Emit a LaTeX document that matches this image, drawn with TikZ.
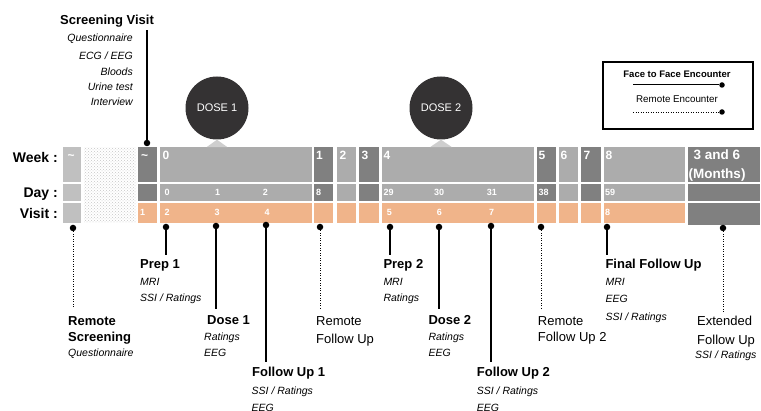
\documentclass[tikz,border=0pt]{standalone}
\usepackage{fontspec}
\setmainfont{Liberation Sans}
\usetikzlibrary{patterns,positioning}
\definecolor{lightcell}{RGB}{192,192,192}
\definecolor{midcell}{RGB}{172,172,172}
\definecolor{darkcell}{RGB}{128,128,128}
\definecolor{visitorange}{RGB}{240,180,138}
\definecolor{dosegray}{RGB}{52,50,51}
\definecolor{notchgray}{RGB}{206,206,206}
\tikzset{
  weekcell/.style = {
    rectangle,
    anchor=north west,
    inner sep=0pt,
    minimum height=34.5pt
  },
  daycell/.style = {
    rectangle,
    anchor=north west,
    inner sep=0pt,
    minimum height=17.5pt
  },
  visitcell/.style = {
    rectangle,
    anchor=north west,
    inner sep=0pt,
    fill=visitorange,
    minimum height=19.5pt
  },
  stipple/.style = {
    rectangle,
    anchor=north west,
    inner sep=0pt,
    fill=gray!8,
    pattern=crosshatch dots,
    pattern color=gray!45
  },
  rowlabel/.style = {
    anchor=base east,
    inner sep=0pt,
    font=\bfseries\fontsize{14}{16}\selectfont
  },
  weeknum/.style = {
    anchor=base west,
    inner sep=0pt,
    text=white,
    font=\bfseries\fontsize{12}{14}\selectfont
  },
  daynum/.style = {
    anchor=base west,
    inner sep=0pt,
    text=white,
    font=\bfseries\fontsize{9}{10}\selectfont
  },
  dosebubble/.style = {
    circle,
    fill=dosegray,
    text=white,
    inner sep=0pt,
    minimum size=63pt,
    font=\fontsize{11}{13}\selectfont
  },
  evtitle/.style = {
    anchor=base west,
    inner sep=0pt,
    font=\bfseries\fontsize{13}{15}\selectfont
  },
  evitem/.style = {
    anchor=base west,
    inner sep=0pt,
    font=\itshape\fontsize{10.5}{12}\selectfont
  },
  evremote/.style = {
    anchor=base west,
    inner sep=0pt,
    font=\fontsize{13}{15}\selectfont
  },
  dotmark/.style = {
    circle,
    fill=black,
    inner sep=0pt,
    minimum size=6.5pt
  },
  facelink/.style = {
    line width=1.4pt
  },
  remotelink/.style = {
    line width=1pt,
    dash pattern=on 1pt off 1.5pt
  },
  legendbox/.style = {
    rectangle,
    draw,
    line width=1.2pt,
    minimum width=150pt,
    minimum height=67pt
  }
}
\begin{document}
\begin{tikzpicture}[x=1pt, y=-1pt]
    \useasboundingbox (0,0) rectangle (761,411);
    % row labels
    \node[rowlabel] (weeklbl) at (58,162.3) {Week :};
    \node[rowlabel] (daylbl) at (58,197.7) {Day :};
    \node[rowlabel] (visitlbl) at (58,218.3) {Visit :};
    % timeline cells
    \node[weekcell, fill=lightcell, minimum width=18pt] (scrAwk) at (63,147) {};
    \node[daycell, fill=lightcell, minimum width=18pt] (scrAday) at (63,183.5) {};
    \node[visitcell, fill=lightcell, minimum width=18pt] (scrAvis) at (63,203) {};
    \node[stipple, minimum width=52pt, minimum height=75.5pt] (gap) at (84,147) {};
    \node[weekcell, fill=darkcell, minimum width=19pt] (scrBwk) at (138,147) {};
    \node[daycell, fill=darkcell, minimum width=19pt] (scrBday) at (138,183.5) {};
    \node[visitcell, minimum width=19pt] (scrBvis) at (138,203) {};
    \node[weekcell, fill=midcell, minimum width=152pt] (wk0) at (160,147) {};
    \node[daycell, fill=midcell, minimum width=152pt] (day0) at (160,183.5) {};
    \node[visitcell, minimum width=152pt] (vis0) at (160,203) {};
    \node[weekcell, fill=darkcell, minimum width=19pt] (wk1) at (314,147) {};
    \node[daycell, fill=darkcell, minimum width=19pt] (day1) at (314,183.5) {};
    \node[visitcell, minimum width=19pt] (vis1) at (314,203) {};
    \node[weekcell, fill=midcell, minimum width=19pt] (wk2) at (337,147) {};
    \node[daycell, fill=midcell, minimum width=19pt] (day2) at (337,183.5) {};
    \node[visitcell, minimum width=19pt] (vis2) at (337,203) {};
    \node[weekcell, fill=darkcell, minimum width=20pt] (wk3) at (359,147) {};
    \node[daycell, fill=darkcell, minimum width=20pt] (day3) at (359,183.5) {};
    \node[visitcell, minimum width=20pt] (vis3) at (359,203) {};
    \node[weekcell, fill=midcell, minimum width=152pt] (wk4) at (382,147) {};
    \node[daycell, fill=midcell, minimum width=152pt] (day4) at (382,183.5) {};
    \node[visitcell, minimum width=152pt] (vis4) at (382,203) {};
    \node[weekcell, fill=darkcell, minimum width=19pt] (wk5) at (537,147) {};
    \node[daycell, fill=darkcell, minimum width=19pt] (day5) at (537,183.5) {};
    \node[visitcell, minimum width=19pt] (vis5) at (537,203) {};
    \node[weekcell, fill=midcell, minimum width=19pt] (wk6) at (559,147) {};
    \node[daycell, fill=midcell, minimum width=19pt] (day6) at (559,183.5) {};
    \node[visitcell, minimum width=19pt] (vis6) at (559,203) {};
    \node[weekcell, fill=darkcell, minimum width=20pt] (wk7) at (581,147) {};
    \node[daycell, fill=darkcell, minimum width=20pt] (day7) at (581,183.5) {};
    \node[visitcell, minimum width=20pt] (vis7) at (581,203) {};
    \node[weekcell, fill=midcell, minimum width=81pt] (wk8) at (604,147) {};
    \node[daycell, fill=midcell, minimum width=81pt] (day8) at (604,183.5) {};
    \node[visitcell, minimum width=81pt] (vis8) at (604,203) {};
    \node[weekcell, fill=darkcell, minimum width=72pt] (wkmon) at (688,147) {};
    \node[daycell, fill=darkcell, minimum width=72pt] (daymon) at (688,183.5) {};
    \node[visitcell, fill=darkcell, minimum width=72pt, minimum height=22pt] (vismon) at (688,203) {};
    % week numbers
    \node[weeknum] (scrAtxt) at (67.5,160) {\char`\~};
    \node[weeknum] (scrBtxt) at (141,160) {\char`\~};
    \node[weeknum] (wk0txt) at (162.5,160) {0};
    \node[weeknum] (wk1txt) at (316,160) {1};
    \node[weeknum] (wk2txt) at (339.5,160) {2};
    \node[weeknum] (wk3txt) at (361.5,160) {3};
    \node[weeknum] (wk4txt) at (383.5,160) {4};
    \node[weeknum] (wk5txt) at (538.5,160) {5};
    \node[weeknum] (wk6txt) at (560.5,160) {6};
    \node[weeknum] (wk7txt) at (583.5,160) {7};
    \node[weeknum] (wk8txt) at (605.5,160) {8};
    \node[weeknum, anchor=center, align=center, font=\bfseries\fontsize{13.5}{19}\selectfont] (montxt) at (717,165.5) {3 and 6\\(Months)};
    % day numbers
    \node[daynum] (d0txt) at (164.3,196) {0};
    \node[daynum] (d1txt) at (215,196) {1};
    \node[daynum] (d2txt) at (262.7,196) {2};
    \node[daynum] (d8txt) at (316,196) {8};
    \node[daynum] (d29txt) at (383.3,196) {29};
    \node[daynum] (d30txt) at (434,196) {30};
    \node[daynum] (d31txt) at (486.7,196) {31};
    \node[daynum] (d38txt) at (538.3,196) {38};
    \node[daynum] (d59txt) at (605,196) {59};
    % visit numbers
    \node[daynum] (v1txt) at (140,216) {1};
    \node[daynum] (v2txt) at (164.3,216) {2};
    \node[daynum] (v3txt) at (214.3,216) {3};
    \node[daynum] (v4txt) at (264.3,216) {4};
    \node[daynum] (v5txt) at (386.7,216) {5};
    \node[daynum] (v6txt) at (436.7,216) {6};
    \node[daynum] (v7txt) at (489,216) {7};
    \node[daynum] (v8txt) at (605,216) {8};
    % dose bubbles
    \node[dosebubble] (doseone) at (217,108) {DOSE 1};
    \node[dosebubble] (dosetwo) at (441,108) {DOSE 2};
    \fill[notchgray] (doseone.south) -- ++(-10.5,7.5) -- ++(21,0) -- cycle;
    \fill[notchgray] (dosetwo.south) -- ++(-11,7.5) -- ++(22,0) -- cycle;
    % screening visit
    \node[evtitle] (scrvisit) at (60,24.5) {Screening Visit};
    \node[evitem, anchor=base east] (scrq) at (133,41.8) {Questionnaire};
    \node[evitem, anchor=base east] (screcg) at (133,59.8) {ECG / EEG};
    \node[evitem, anchor=base east] (scrblood) at (133,75.8) {Bloods};
    \node[evitem, anchor=base east] (scrurine) at (133,90.8) {Urine test};
    \node[evitem, anchor=base east] (scrint) at (133,105.8) {Interview};
    \node[dotmark] (scrdot) at (147,143) {};
    \coordinate (scrtop) at (147,30);
    \draw[facelink] (scrdot) -- (scrtop);
    % remote screening
    \node[dotmark] (rscrdot) at (73,228) {};
    \coordinate (rscrend) at (73,308);
    \draw[remotelink] (rscrdot) -- (rscrend);
    \node[evtitle] (rscrA) at (68,325.5) {Remote};
    \node[evtitle] (rscrB) at (68,341.5) {Screening};
    \node[evitem] (rscrq) at (68,357) {Questionnaire};
    % prep 1
    \node[dotmark] (prepAdot) at (166,227) {};
    \coordinate (prepAend) at (166,255);
    \draw[facelink] (prepAdot) -- (prepAend);
    \node[evtitle] (prepA) at (140,269) {Prep 1};
    \node[evitem] (prepAmri) at (140,286) {MRI};
    \node[evitem] (prepAssi) at (140,302) {SSI / Ratings};
    % dose 1
    \node[dotmark] (doseAdot) at (216,226) {};
    \coordinate (doseAend) at (216,309);
    \draw[facelink] (doseAdot) -- (doseAend);
    \node[evtitle] (doseA) at (207,325) {Dose 1};
    \node[evitem] (doseArat) at (204,341) {Ratings};
    \node[evitem] (doseAeeg) at (204,357) {EEG};
    % follow up 1
    \node[dotmark] (fupAdot) at (266,225) {};
    \coordinate (fupAend) at (266,362);
    \draw[facelink] (fupAdot) -- (fupAend);
    \node[evtitle] (fupA) at (252,377) {Follow Up 1};
    \node[evitem] (fupAssi) at (251.5,394.5) {SSI / Ratings};
    \node[evitem] (fupAeeg) at (251.5,412) {EEG};
    % remote follow up 1
    \node[dotmark] (rfupAdot) at (320,227) {};
    \coordinate (rfupAend) at (320,309);
    \draw[remotelink] (rfupAdot) -- (rfupAend);
    \node[evremote] (rfupA) at (316,325.5) {Remote};
    \node[evremote] (rfupAb) at (316,343.5) {Follow Up};
    % prep 2
    \node[dotmark] (prepBdot) at (390,227) {};
    \coordinate (prepBend) at (390,255);
    \draw[facelink] (prepBdot) -- (prepBend);
    \node[evtitle] (prepB) at (383.3,269) {Prep 2};
    \node[evitem] (prepBmri) at (383.3,286) {MRI};
    \node[evitem] (prepBrat) at (383.3,302) {Ratings};
    % dose 2
    \node[dotmark] (doseBdot) at (439,227) {};
    \coordinate (doseBend) at (439,309);
    \draw[facelink] (doseBdot) -- (doseBend);
    \node[evtitle] (doseB) at (428.3,325) {Dose 2};
    \node[evitem] (doseBrat) at (428.3,341) {Ratings};
    \node[evitem] (doseBeeg) at (428.3,357) {EEG};
    % follow up 2
    \node[dotmark] (fupBdot) at (491,226) {};
    \coordinate (fupBend) at (491,362);
    \draw[facelink] (fupBdot) -- (fupBend);
    \node[evtitle] (fupB) at (476.7,377) {Follow Up 2};
    \node[evitem] (fupBssi) at (476.7,394.5) {SSI / Ratings};
    \node[evitem] (fupBeeg) at (476.7,412) {EEG};
    % remote follow up 2
    \node[dotmark] (rfupBdot) at (541,227) {};
    \coordinate (rfupBend) at (541,308);
    \draw[remotelink] (rfupBdot) -- (rfupBend);
    \node[evremote] (rfupB) at (537.7,325.5) {Remote};
    \node[evremote] (rfupBb) at (537.7,341.5) {Follow Up 2};
    % final follow up
    \node[dotmark] (finaldot) at (607,227) {};
    \coordinate (finalend) at (607,255);
    \draw[facelink] (finaldot) -- (finalend);
    \node[evtitle] (finalfu) at (605.3,269) {Final Follow Up};
    \node[evitem] (finalmri) at (605.3,285.5) {MRI};
    \node[evitem] (finaleeg) at (605.3,303) {EEG};
    \node[evitem] (finalssi) at (605.3,321) {SSI / Ratings};
    % extended follow up
    \node[dotmark] (extdot) at (723,228) {};
    \coordinate (extend) at (723,312);
    \draw[remotelink] (extdot) -- (extend);
    \node[evremote] (extfu) at (697,325.5) {Extended};
    \node[evremote] (extfub) at (697,344.5) {Follow Up};
    \node[evitem] (extssi) at (695,359) {SSI / Ratings};
    % legend
    \node[legendbox] (legend) at (678,95.5) {};
    \node[evtitle, anchor=base, font=\bfseries\fontsize{9.5}{11}\selectfont] (legendface) at (677,77.5) {Face to Face Encounter};
    \coordinate (faceA) at (633,85);
    \node[dotmark, minimum size=5.5pt] (faceB) at (722,85) {};
    \draw[line width=1pt] (faceA) -- (faceB);
    \node[evremote, anchor=base, font=\fontsize{9.8}{11}\selectfont] (legendremote) at (677,102.5) {Remote Encounter};
    \coordinate (remA) at (633,112);
    \node[dotmark, minimum size=5.5pt] (remB) at (722,112) {};
    \draw[remotelink, line width=0.8pt] (remA) -- (remB);
  \end{tikzpicture}
\end{document}
